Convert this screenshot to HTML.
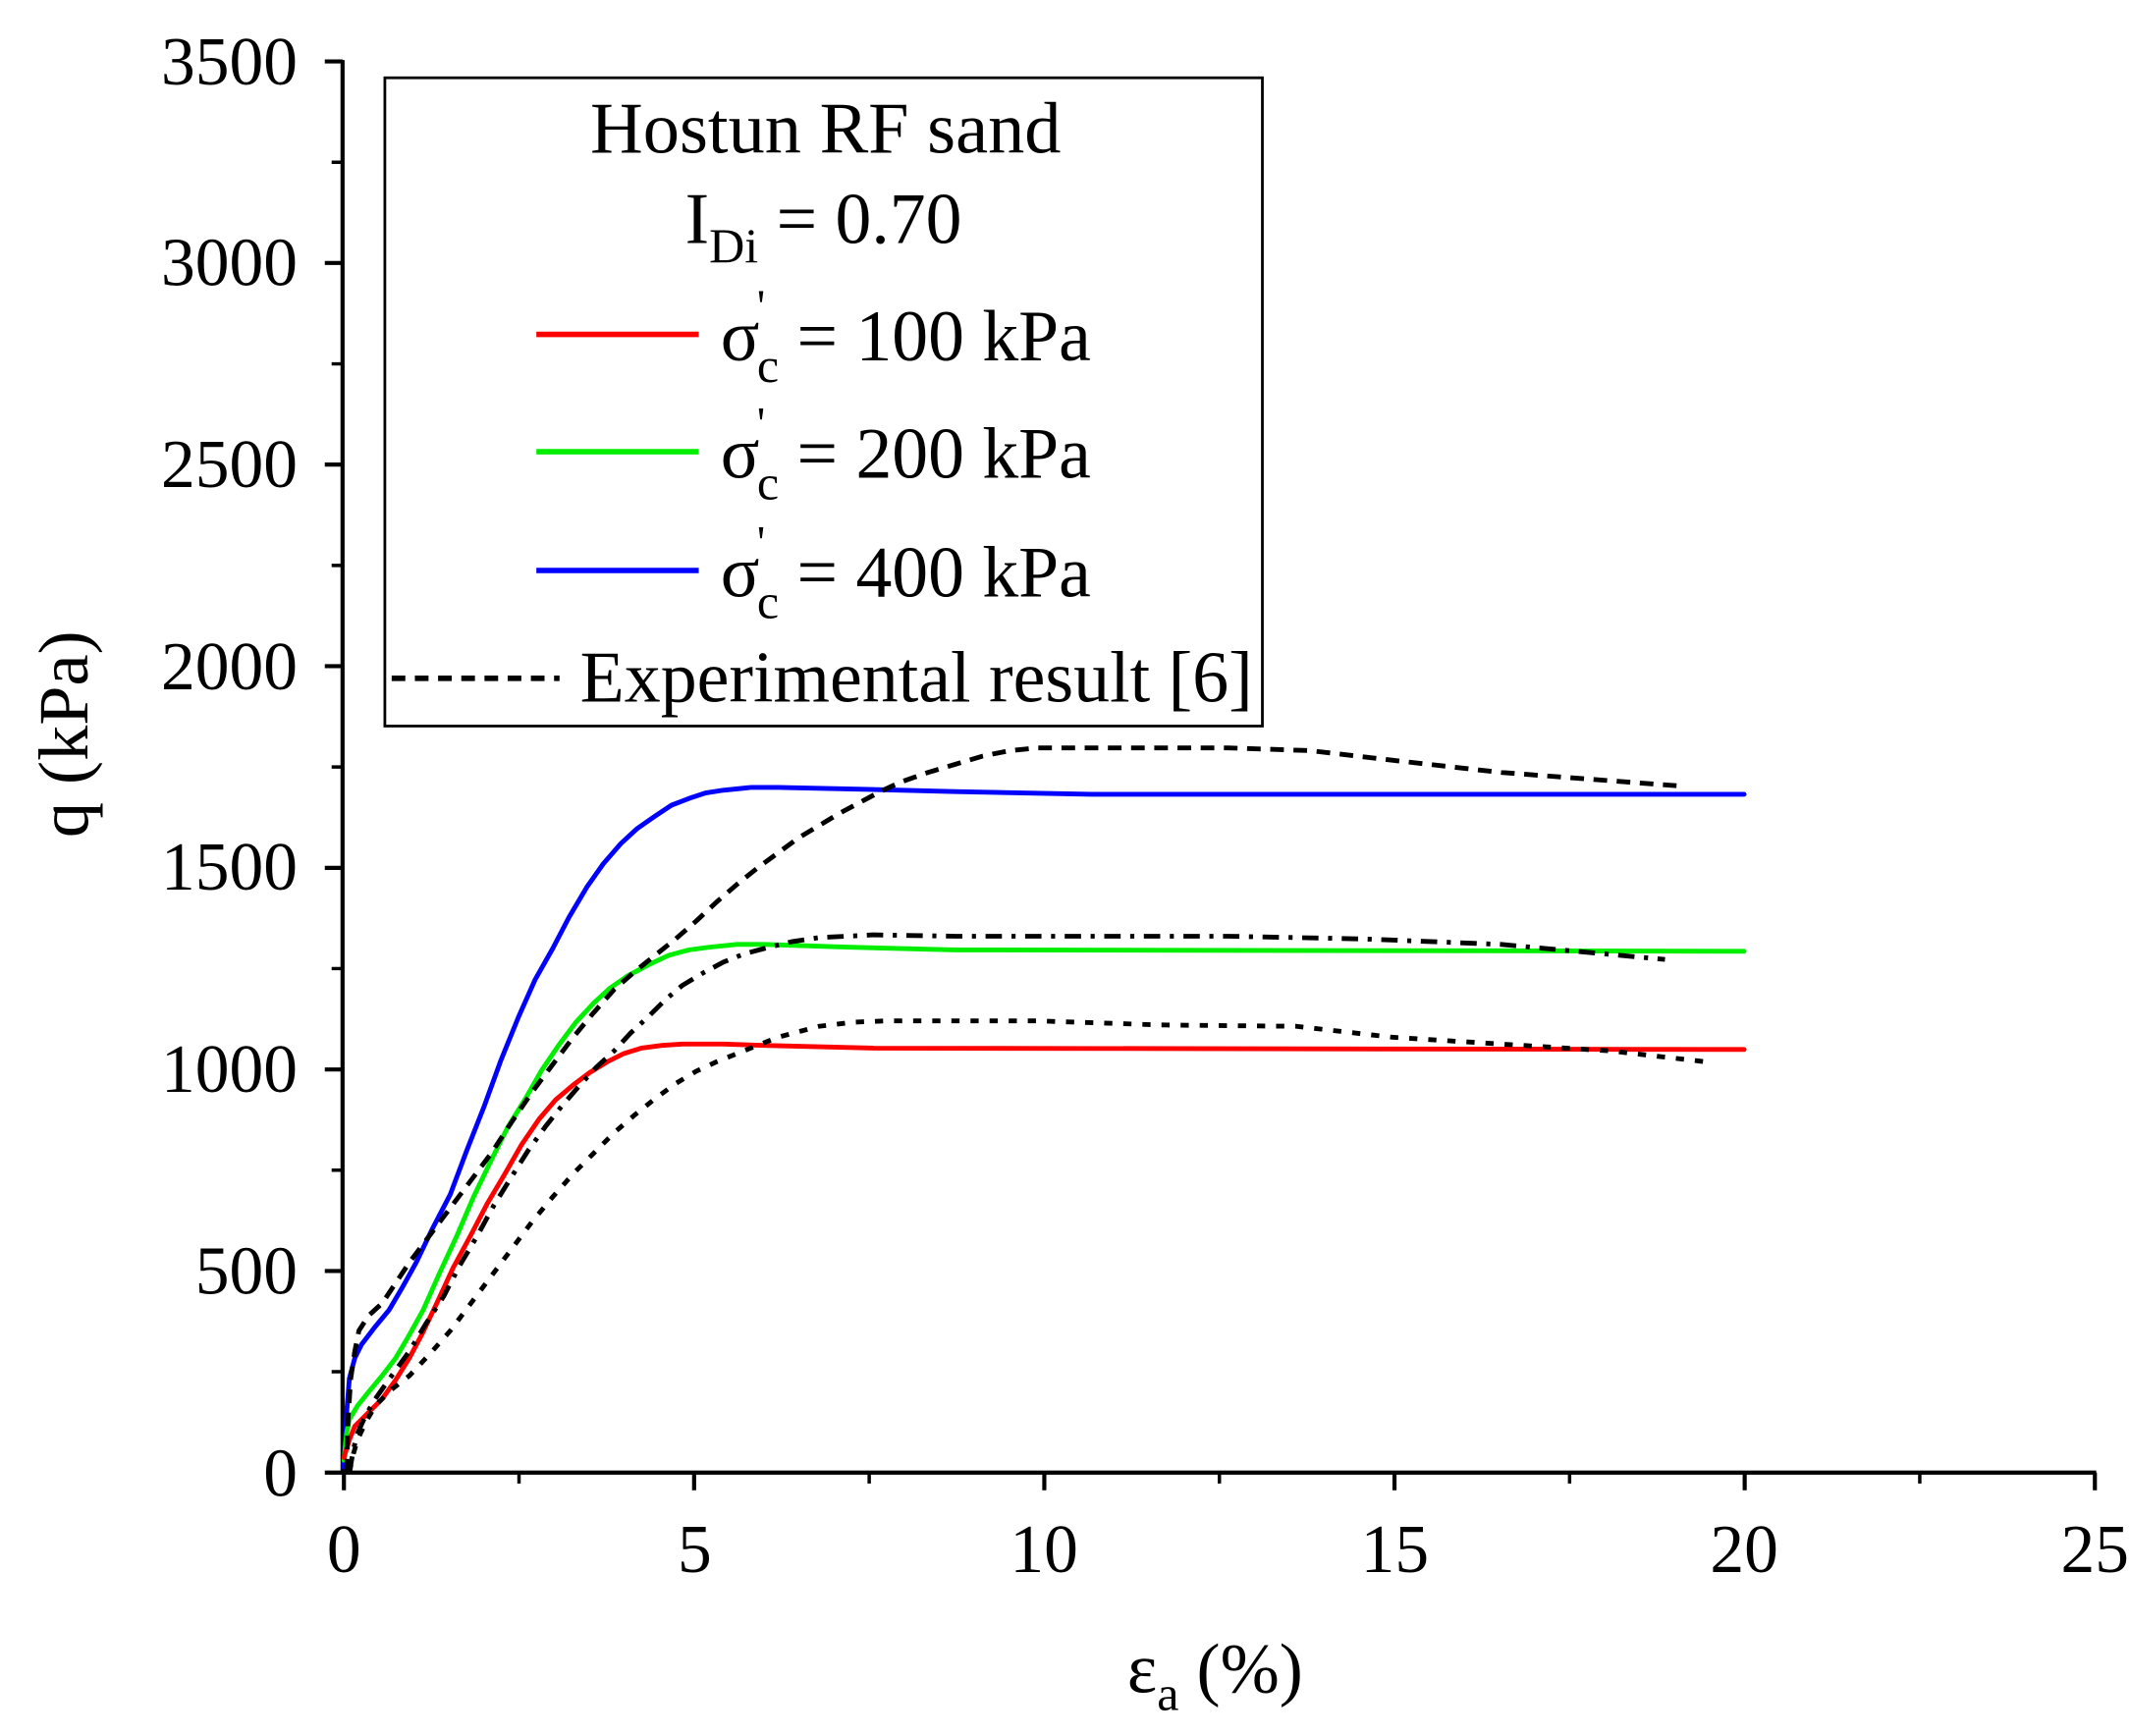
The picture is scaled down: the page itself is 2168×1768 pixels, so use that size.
<!DOCTYPE html>
<html><head><meta charset="utf-8"><style>
html,body{margin:0;padding:0;background:#fff}
svg{display:block}
text{font-family:"Liberation Serif",serif;fill:#000}
</style></head><body>
<svg width="2168" height="1768" viewBox="0 0 1560 1272" preserveAspectRatio="none" xmlns="http://www.w3.org/2000/svg">
<rect width="1560" height="1272" fill="#fff"/>
<g stroke="#000" stroke-width="3" fill="none">
<line x1="250" y1="1079" x2="1536" y2="1079"/>
<line x1="251" y1="44" x2="251" y2="1080"/>
<path d="M252 1079v13M508.6 1079v13M765.2 1079v13M1021.8 1079v13M1278.4 1079v13M1535 1079v13"/>
<path d="M380.3 1079v8M636.9 1079v8M893.5 1079v8M1150.1 1079v8M1406.7 1079v8" stroke-width="2.5"/>
<path d="M251 1079h-13M251 931.3h-13M251 783.6h-13M251 635.9h-13M251 488.1h-13M251 340.4h-13M251 192.7h-13M251 45h-13"/>
<path d="M251 1005.1h-8M251 857.4h-8M251 709.7h-8M251 562h-8M251 414.3h-8M251 266.6h-8M251 118.9h-8" stroke-width="2.5"/>
</g>
<g font-size="50" text-anchor="end">
<text x="218" y="1096">0</text><text x="218" y="948">500</text><text x="218" y="800">1000</text>
<text x="218" y="652">1500</text><text x="218" y="505">2000</text><text x="218" y="357">2500</text>
<text x="218" y="209">3000</text><text x="218" y="62">3500</text>
</g>
<g font-size="50" text-anchor="middle">
<text x="252" y="1152">0</text><text x="509" y="1152">5</text><text x="765" y="1152">10</text>
<text x="1022" y="1152">15</text><text x="1278" y="1152">20</text><text x="1535" y="1152">25</text>
</g>
<text x="0" y="0" font-size="52" text-anchor="middle" transform="translate(64 538) rotate(-90)">q (kPa)</text>
<text x="826" y="1240" font-size="52">ε<tspan font-size="36" dy="13">a</tspan><tspan dy="-13"> (%)</tspan></text>

<g fill="none" stroke-width="3.5" stroke-linejoin="round" stroke-linecap="round">
<polyline stroke="#0000ff" points="252,1075 254,1035 256,1010 260,995 265,985 275,972 285,960 295,943 305,925 317,900 330,875 342,843 355,810 367,777 380,745 392,718 405,695 417,672 430,650 442,633 455,618 467,607 480,598 492,590 505,585 517,581 530,579 550,577 570,577 620,578 700,580 800,582 1278,582"/>
<polyline stroke="#00ee00" points="252,1070 254,1050 256,1040 262,1030 270,1020 280,1008 290,995 300,978 310,960 322,933 335,905 347,877 360,850 372,826 385,805 397,784 410,765 422,749 435,735 447,724 460,715 475,707 490,700 505,696 520,694 540,692 560,692 620,694 700,696 1278,697"/>
<polyline stroke="#ff0000" points="252,1068 256,1055 260,1045 270,1035 280,1025 290,1011 300,995 310,976 320,955 332,929 345,905 357,882 370,860 382,839 395,820 407,806 420,795 432,786 445,778 457,772 470,768 485,766 500,765 530,765 560,766 640,768 1278,769"/>
</g>
<g fill="none" stroke="#000" stroke-width="3.5" stroke-linejoin="round">
<polyline stroke-dasharray="10 7" points="254,1079 255,1040 257,1010 260,990 263,975 270,964 280,955 290,940 300,925 315,905 330,885 345,865 360,845 375,822 390,800 405,780 420,760 435,742 450,725 465,712 480,700 495,688 510,675 525,661 540,648 555,636 570,625 585,614 600,605 615,596 630,588 645,580 660,573 680,566 700,560 720,554 740,550 760,548 780,548 900,548 960,550 1020,557 1100,566 1232,576"/>
<polyline stroke-dasharray="12 7 3 7" points="256,1079 259,1062 262,1050 268,1037 275,1025 287,1008 300,990 312,970 325,950 337,927 350,905 362,883 375,862 387,843 400,825 412,810 425,795 437,782 450,770 462,757 475,745 487,733 500,722 515,713 530,705 545,699 560,695 580,690 600,687 640,685 700,686 900,686 1000,688 1100,692 1220,703"/>
<polyline stroke-dasharray="6 8" points="256,1079 259,1065 262,1055 268,1042 275,1030 287,1018 300,1008 315,992 330,975 345,955 360,935 375,915 390,895 405,877 420,860 435,845 450,830 465,817 480,805 495,794 510,785 525,778 540,772 555,766 570,760 585,756 600,752 625,749 650,748 760,748 850,751 950,752 1020,760 1100,765 1180,770 1250,778"/>
</g>

<rect x="282" y="57" width="643" height="475" fill="#fff" stroke="#000" stroke-width="2"/>
<text x="605" y="112" font-size="53" text-anchor="middle" textLength="345" lengthAdjust="spacingAndGlyphs">Hostun RF sand</text>
<text x="502" y="178" font-size="53">I<tspan font-size="36" dy="14">Di</tspan><tspan dy="-14"> = 0.70</tspan></text>
<g stroke-width="4">
<line x1="393" y1="245" x2="512" y2="245" stroke="#ff0000"/>
<line x1="393" y1="331" x2="512" y2="331" stroke="#00ee00"/>
<line x1="393" y1="418" x2="512" y2="418" stroke="#0000ff"/>
<line x1="287" y1="497" x2="410" y2="497" stroke="#000" stroke-dasharray="10 7"/>
</g>
<g font-size="53">
<text x="528" y="264">σ<tspan font-size="34" dx="-2" dy="-28">'</tspan><tspan font-size="36" dx="-6" dy="44">c</tspan><tspan dy="-16"> = 100 kPa</tspan></text>
<text x="528" y="350">σ<tspan font-size="34" dx="-2" dy="-28">'</tspan><tspan font-size="36" dx="-6" dy="44">c</tspan><tspan dy="-16"> = 200 kPa</tspan></text>
<text x="528" y="437">σ<tspan font-size="34" dx="-2" dy="-28">'</tspan><tspan font-size="36" dx="-6" dy="44">c</tspan><tspan dy="-16"> = 400 kPa</tspan></text>
<text x="425" y="514" textLength="493" lengthAdjust="spacingAndGlyphs">Experimental result [6]</text>
</g>
</svg>
</body></html>
